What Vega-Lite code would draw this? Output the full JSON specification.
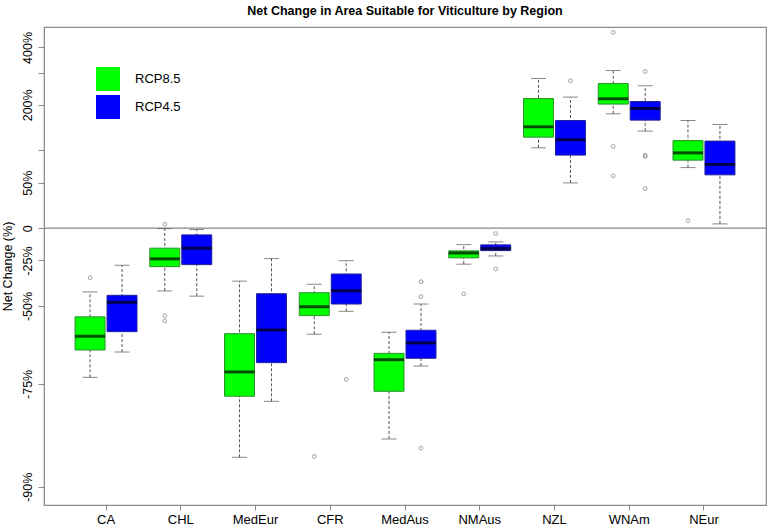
{
  "$schema": "https://vega.github.io/schema/vega-lite/v6.json",
  "autosize": "none",
  "width": 722,
  "height": 478,
  "padding": {"left": 44, "top": 27, "right": 3, "bottom": 21},
  "background": "white",
  "config": {
    "font": "Liberation Sans",
    "view": {"stroke": "#8a8a8a", "strokeWidth": 1.2}
  },
  "title": {
    "text": "Net Change in Area Suitable for Viticulture by Region",
    "fontSize": 12.5,
    "fontWeight": "bold",
    "color": "#000",
    "anchor": "middle",
    "offset": 10
  },
  "datasets": {
    "boxes": [
      {"region": "CA", "scenario": "RCP8.5", "lower": 0.265, "q1": 0.338, "median": 0.382, "q3": 0.454, "upper": 0.567},
      {"region": "CA", "scenario": "RCP4.5", "lower": 0.332, "q1": 0.398, "median": 0.517, "q3": 0.550, "upper": 0.719},
      {"region": "CHL", "scenario": "RCP8.5", "lower": 0.572, "q1": 0.710, "median": 0.761, "q3": 0.837, "upper": 0.996},
      {"region": "CHL", "scenario": "RCP4.5", "lower": 0.546, "q1": 0.723, "median": 0.837, "q3": 0.942, "upper": 0.988},
      {"region": "MedEur", "scenario": "RCP8.5", "lower": 0.130, "q1": 0.224, "median": 0.278, "q3": 0.391, "upper": 0.624},
      {"region": "MedEur", "scenario": "RCP4.5", "lower": 0.214, "q1": 0.302, "median": 0.404, "q3": 0.558, "upper": 0.763},
      {"region": "CFR", "scenario": "RCP8.5", "lower": 0.389, "q1": 0.459, "median": 0.497, "q3": 0.563, "upper": 0.607},
      {"region": "CFR", "scenario": "RCP4.5", "lower": 0.477, "q1": 0.509, "median": 0.573, "q3": 0.665, "upper": 0.749},
      {"region": "MedAus", "scenario": "RCP8.5", "lower": 0.153, "q1": 0.234, "median": 0.310, "q3": 0.328, "upper": 0.396},
      {"region": "MedAus", "scenario": "RCP4.5", "lower": 0.293, "q1": 0.314, "median": 0.360, "q3": 0.403, "upper": 0.509},
      {"region": "NMAus", "scenario": "RCP8.5", "lower": 0.726, "q1": 0.768, "median": 0.802, "q3": 0.817, "upper": 0.864},
      {"region": "NMAus", "scenario": "RCP4.5", "lower": 0.781, "q1": 0.819, "median": 0.834, "q3": 0.862, "upper": 0.885},
      {"region": "NZL", "scenario": "RCP8.5", "lower": 2.046, "q1": 2.250, "median": 2.467, "q3": 3.174, "upper": 3.794},
      {"region": "NZL", "scenario": "RCP4.5", "lower": 1.497, "q1": 1.917, "median": 2.197, "q3": 2.609, "upper": 3.214},
      {"region": "WNAm", "scenario": "RCP8.5", "lower": 2.770, "q1": 3.020, "median": 3.166, "q3": 3.628, "upper": 4.074},
      {"region": "WNAm", "scenario": "RCP4.5", "lower": 2.374, "q1": 2.618, "median": 2.904, "q3": 3.090, "upper": 3.555},
      {"region": "NEur", "scenario": "RCP8.5", "lower": 1.716, "q1": 1.833, "median": 1.956, "q3": 2.183, "upper": 2.609},
      {"region": "NEur", "scenario": "RCP4.5", "lower": 1.039, "q1": 1.608, "median": 1.763, "q3": 2.172, "upper": 2.518}
    ],
    "outliers": [
      {"region": "CA", "scenario": "RCP8.5", "ratio": 0.644},
      {"region": "CHL", "scenario": "RCP8.5", "ratio": 1.036},
      {"region": "CHL", "scenario": "RCP8.5", "ratio": 0.459},
      {"region": "CHL", "scenario": "RCP8.5", "ratio": 0.438},
      {"region": "CFR", "scenario": "RCP8.5", "ratio": 0.131},
      {"region": "CFR", "scenario": "RCP4.5", "ratio": 0.260},
      {"region": "MedAus", "scenario": "RCP4.5", "ratio": 0.621},
      {"region": "MedAus", "scenario": "RCP4.5", "ratio": 0.544},
      {"region": "MedAus", "scenario": "RCP4.5", "ratio": 0.141},
      {"region": "NMAus", "scenario": "RCP8.5", "ratio": 0.557},
      {"region": "NMAus", "scenario": "RCP4.5", "ratio": 0.953},
      {"region": "NMAus", "scenario": "RCP4.5", "ratio": 0.696},
      {"region": "NZL", "scenario": "RCP4.5", "ratio": 3.717},
      {"region": "WNAm", "scenario": "RCP8.5", "ratio": 5.717},
      {"region": "WNAm", "scenario": "RCP8.5", "ratio": 2.070},
      {"region": "WNAm", "scenario": "RCP8.5", "ratio": 1.594},
      {"region": "WNAm", "scenario": "RCP4.5", "ratio": 4.038},
      {"region": "WNAm", "scenario": "RCP4.5", "ratio": 1.915},
      {"region": "WNAm", "scenario": "RCP4.5", "ratio": 1.895},
      {"region": "WNAm", "scenario": "RCP4.5", "ratio": 1.423},
      {"region": "NEur", "scenario": "RCP8.5", "ratio": 1.070}
    ]
  },
  "encoding": {
    "x": {
      "field": "region",
      "type": "nominal",
      "scale": {"domain": ["CA", "CHL", "MedEur", "CFR", "MedAus", "NMAus", "NZL", "WNAm", "NEur"], "paddingInner": 0, "paddingOuter": 0.33},
      "axis": {"title": null, "labelAngle": 0, "labelFontSize": 13, "labelColor": "#000", "labelPadding": 3, "tickSize": 5, "tickColor": "#8a8a8a", "domainColor": "#8a8a8a", "labelBaseline": "top"}
    },
    "xOffset": {
      "field": "scenario",
      "type": "nominal",
      "scale": {"domain": ["RCP8.5", "RCP4.5"], "paddingInner": 0.0625, "paddingOuter": 0.2}
    }
  },
  "layer": [
    {
      "data": {"values": [{}]},
      "mark": {"type": "rule", "color": "#8a8a8a", "strokeWidth": 1.2},
      "encoding": {"y": {"datum": 1, "type": "quantitative"}, "x": null, "xOffset": null}
    },
    {
      "data": {"name": "boxes"},
      "mark": {"type": "rule", "color": "#555", "strokeWidth": 1, "strokeDash": [3, 2]},
      "encoding": {
        "y": {
          "field": "lower",
          "type": "quantitative",
          "scale": {"type": "log", "domain": [0.085, 6.0], "nice": false, "zero": false},
          "axis": {
            "title": "Net Change (%)",
            "titleFontSize": 12.5,
            "titleFontWeight": "normal",
            "titleColor": "#000",
            "titlePadding": 7,
            "values": [0.1, 0.25, 0.5, 0.75, 1, 1.5, 2, 3, 4, 5],
            "labelExpr": "datum.value == 1 ? '0' : (datum.value == 2 || datum.value == 4) ? '' : round((datum.value - 1) * 100) + '%'",
            "labelAngle": 270,
            "labelAlign": "center",
            "labelBaseline": "bottom",
            "labelFontSize": 12.5,
            "labelColor": "#000",
            "labelPadding": 4,
            "tickSize": 6,
            "tickColor": "#8a8a8a",
            "domainColor": "#8a8a8a",
            "grid": false
          }
        },
        "y2": {"field": "upper"}
      }
    },
    {
      "data": {"name": "boxes"},
      "mark": {"type": "tick", "color": "#555", "size": 15, "thickness": 1},
      "encoding": {"y": {"field": "lower", "type": "quantitative"}}
    },
    {
      "data": {"name": "boxes"},
      "mark": {"type": "tick", "color": "#555", "size": 15, "thickness": 1},
      "encoding": {"y": {"field": "upper", "type": "quantitative"}}
    },
    {
      "data": {"name": "boxes"},
      "mark": {"type": "bar", "strokeWidth": 1, "opacity": 1},
      "encoding": {
        "y": {"field": "q1", "type": "quantitative"},
        "y2": {"field": "q3"},
        "color": {
          "field": "scenario",
          "type": "nominal",
          "scale": {"domain": ["RCP8.5", "RCP4.5"], "range": ["#00ff00", "#0000ff"]},
          "legend": {
            "title": null,
            "orient": "none",
            "legendX": 52,
            "legendY": 40,
            "padding": 0,
            "symbolType": "square",
            "symbolSize": 576,
            "symbolStrokeWidth": 0,
            "symbolOpacity": 1,
            "labelFontSize": 13,
            "labelColor": "#000",
            "labelOffset": 15,
            "rowPadding": 4
          }
        },
        "stroke": {
          "field": "scenario",
          "type": "nominal",
          "scale": {"domain": ["RCP8.5", "RCP4.5"], "range": ["#2f8f2f", "#22229a"]},
          "legend": null
        }
      }
    },
    {
      "data": {"name": "boxes"},
      "mark": {"type": "tick", "color": "#000", "size": 30, "thickness": 3},
      "encoding": {"y": {"field": "median", "type": "quantitative"}}
    },
    {
      "data": {"name": "outliers"},
      "mark": {"type": "point", "shape": "circle", "filled": false, "size": 14, "stroke": "#777", "strokeWidth": 1},
      "encoding": {"y": {"field": "ratio", "type": "quantitative"}}
    }
  ]
}
